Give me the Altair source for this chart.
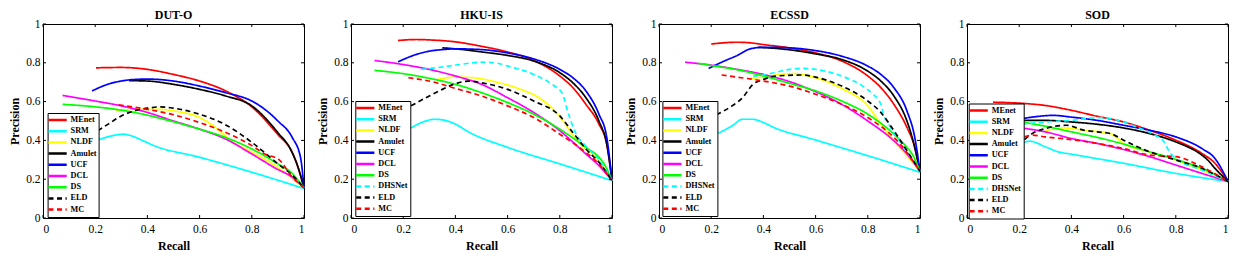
import altair as alt
import pandas as pd

# ---------------- data ----------------
TITLES = ["DUT-O", "HKU-IS", "ECSSD", "SOD"]
METHODS_9 = ["MEnet", "SRM", "NLDF", "Amulet", "UCF", "DCL", "DS", "ELD", "MC"]
METHODS_10 = ["MEnet", "SRM", "NLDF", "Amulet", "UCF", "DCL", "DS", "DHSNet", "ELD", "MC"]
COLORS = {"MEnet": "#ff0000", "SRM": "#00ffff", "NLDF": "#ffff00", "Amulet": "#000000",
          "UCF": "#0000ff", "DCL": "#ff00ff", "DS": "#00ff00", "DHSNet": "#00ffff",
          "ELD": "#000000", "MC": "#ff0000"}
DASHED = ["DHSNet", "ELD", "MC"]
TICKS = [0, 0.2, 0.4, 0.6, 0.8, 1]

DUTO_R = {
    "MEnet": [0.203, 0.3, 0.4, 0.5, 0.6, 0.7, 0.8, 0.9, 0.955, 0.98, 1.0],
    "SRM": [0.187, 0.25, 0.307, 0.33, 0.384, 0.42, 0.6, 0.8, 1.0],
    "NLDF": [0.28, 0.35, 0.45, 0.5, 0.6, 0.625, 0.676, 0.727, 0.778, 0.9, 1.0],
    "Amulet": [0.33, 0.4, 0.5, 0.6, 0.7, 0.8, 0.9, 0.95, 0.975, 1.0],
    "UCF": [0.188, 0.25, 0.3, 0.35, 0.4, 0.5, 0.6, 0.7, 0.8, 0.85, 0.9, 0.955, 0.987, 1.0],
    "DCL": [0.075, 0.2, 0.3, 0.4, 0.5, 0.6, 0.7, 0.8, 0.9, 0.95, 1.0],
    "DS": [0.075, 0.2, 0.3, 0.4, 0.5, 0.6, 0.7, 0.8, 0.9, 0.95, 1.0],
    "ELD": [0.21, 0.25, 0.3, 0.35, 0.4, 0.45, 0.5, 0.6, 0.7, 0.8, 0.84, 0.9, 0.95, 1.0],
    "MC": [0.29, 0.4, 0.5, 0.6, 0.7, 0.8, 0.85, 0.905, 0.95, 1.0],
}
DUTO_P = {
    "MEnet": [0.774, 0.776, 0.766, 0.74, 0.706, 0.655, 0.573, 0.43, 0.338, 0.25, 0.155],
    "SRM": [0.39, 0.419, 0.432, 0.427, 0.398, 0.376, 0.313, 0.236, 0.152],
    "NLDF": [0.552, 0.56, 0.56, 0.552, 0.518, 0.50, 0.45, 0.39, 0.355, 0.26, 0.155],
    "Amulet": [0.708, 0.706, 0.689, 0.663, 0.629, 0.578, 0.44, 0.35, 0.27, 0.155],
    "UCF": [0.655, 0.69, 0.706, 0.714, 0.716, 0.706, 0.68, 0.646, 0.603, 0.56, 0.50, 0.415, 0.31, 0.155],
    "DCL": [0.632, 0.603, 0.578, 0.544, 0.50, 0.458, 0.407, 0.33, 0.25, 0.215, 0.155],
    "DS": [0.586, 0.573, 0.556, 0.53, 0.496, 0.458, 0.415, 0.356, 0.279, 0.236, 0.155],
    "ELD": [0.45, 0.484, 0.526, 0.552, 0.566, 0.573, 0.566, 0.535, 0.48, 0.39, 0.347, 0.279, 0.227, 0.155],
    "MC": [0.583, 0.56, 0.532, 0.492, 0.441, 0.373, 0.33, 0.30, 0.219, 0.155],
}

HKU_R = {
    "MEnet": [0.18, 0.25, 0.3, 0.4, 0.5, 0.6, 0.7, 0.8, 0.85, 0.9, 0.95, 0.98, 1.0],
    "SRM": [0.2, 0.28, 0.32, 0.35, 0.4, 0.45, 0.6, 0.8, 1.0],
    "NLDF": [0.33, 0.4, 0.47, 0.54, 0.65, 0.72, 0.803, 0.848, 0.873, 0.95, 1.0],
    "Amulet": [0.35, 0.4, 0.5, 0.6, 0.7, 0.8, 0.85, 0.9, 0.95, 0.98, 1.0],
    "UCF": [0.18, 0.25, 0.3, 0.35, 0.4, 0.5, 0.6, 0.7, 0.8, 0.85, 0.9, 0.95, 0.98, 1.0],
    "DCL": [0.09, 0.2, 0.3, 0.4, 0.5, 0.6, 0.7, 0.8, 0.9, 0.95, 1.0],
    "DS": [0.09, 0.2, 0.3, 0.4, 0.5, 0.6, 0.7, 0.8, 0.9, 0.95, 0.97, 1.0],
    "DHSNet": [0.27, 0.3, 0.4, 0.5, 0.55, 0.6, 0.7, 0.77, 0.81, 0.83, 0.86, 0.9, 0.95, 1.0],
    "ELD": [0.23, 0.3, 0.35, 0.4, 0.45, 0.5, 0.6, 0.7, 0.8, 0.85, 0.9, 0.95, 1.0],
    "MC": [0.22, 0.3, 0.4, 0.5, 0.6, 0.7, 0.8, 0.9, 0.95, 1.0],
}
HKU_P = {
    "MEnet": [0.915, 0.92, 0.918, 0.908, 0.885, 0.856, 0.812, 0.732, 0.672, 0.586, 0.484, 0.38, 0.193],
    "SRM": [0.44, 0.497, 0.509, 0.506, 0.484, 0.444, 0.364, 0.279, 0.193],
    "NLDF": [0.714, 0.726, 0.723, 0.706, 0.663, 0.62, 0.518, 0.432, 0.39, 0.296, 0.193],
    "Amulet": [0.877, 0.872, 0.856, 0.838, 0.809, 0.749, 0.697, 0.62, 0.50, 0.38, 0.193],
    "UCF": [0.805, 0.843, 0.86, 0.868, 0.872, 0.868, 0.851, 0.82, 0.766, 0.723, 0.655, 0.535, 0.415, 0.193],
    "DCL": [0.812, 0.791, 0.766, 0.732, 0.689, 0.62, 0.544, 0.45, 0.33, 0.27, 0.193],
    "DS": [0.761, 0.744, 0.72, 0.689, 0.646, 0.595, 0.535, 0.458, 0.364, 0.313, 0.279, 0.193],
    "DHSNet": [0.766, 0.77, 0.788, 0.803, 0.80, 0.783, 0.74, 0.689, 0.64, 0.55, 0.44, 0.37, 0.30, 0.193],
    "ELD": [0.578, 0.629, 0.663, 0.692, 0.706, 0.697, 0.663, 0.603, 0.526, 0.441, 0.356, 0.287, 0.193],
    "MC": [0.723, 0.706, 0.668, 0.629, 0.578, 0.518, 0.432, 0.338, 0.279, 0.193],
}

ECSSD_R = {
    "MEnet": [0.2, 0.3, 0.35, 0.4, 0.5, 0.6, 0.7, 0.8, 0.85, 0.9, 0.95, 0.98, 1.0],
    "SRM": [0.2, 0.28, 0.32, 0.36, 0.4, 0.44, 0.6, 0.8, 1.0],
    "NLDF": [0.35, 0.4, 0.45, 0.52, 0.6, 0.7, 0.8, 0.85, 0.9, 0.95, 1.0],
    "Amulet": [0.38, 0.45, 0.5, 0.6, 0.7, 0.8, 0.85, 0.9, 0.95, 0.97, 1.0],
    "UCF": [0.19, 0.25, 0.3, 0.35, 0.4, 0.5, 0.6, 0.7, 0.8, 0.85, 0.9, 0.95, 0.98, 1.0],
    "DCL": [0.1, 0.2, 0.3, 0.4, 0.5, 0.6, 0.7, 0.8, 0.9, 0.95, 1.0],
    "DS": [0.15, 0.2, 0.3, 0.4, 0.5, 0.6, 0.7, 0.8, 0.9, 0.95, 0.97, 1.0],
    "DHSNet": [0.36, 0.4, 0.45, 0.5, 0.55, 0.6, 0.7, 0.78, 0.82, 0.85, 0.86, 0.88, 0.92, 0.96, 1.0],
    "ELD": [0.22, 0.28, 0.32, 0.36, 0.4, 0.45, 0.55, 0.6, 0.7, 0.8, 0.85, 0.9, 0.95, 1.0],
    "MC": [0.24, 0.3, 0.4, 0.5, 0.6, 0.7, 0.8, 0.9, 0.95, 1.0],
}
ECSSD_P = {
    "MEnet": [0.897, 0.906, 0.903, 0.894, 0.877, 0.851, 0.809, 0.732, 0.672, 0.586, 0.467, 0.364, 0.24],
    "SRM": [0.42, 0.475, 0.509, 0.509, 0.492, 0.467, 0.402, 0.321, 0.236],
    "NLDF": [0.72, 0.726, 0.737, 0.744, 0.723, 0.668, 0.578, 0.484, 0.398, 0.321, 0.24],
    "Amulet": [0.88, 0.874, 0.867, 0.846, 0.817, 0.757, 0.706, 0.629, 0.50, 0.415, 0.24],
    "UCF": [0.771, 0.809, 0.838, 0.872, 0.88, 0.877, 0.863, 0.834, 0.783, 0.74, 0.672, 0.552, 0.415, 0.24],
    "DCL": [0.803, 0.788, 0.766, 0.74, 0.703, 0.651, 0.586, 0.50, 0.398, 0.33, 0.24],
    "DS": [0.797, 0.786, 0.764, 0.732, 0.694, 0.655, 0.603, 0.535, 0.432, 0.364, 0.33, 0.24],
    "DHSNet": [0.732, 0.737, 0.752, 0.766, 0.771, 0.766, 0.732, 0.68, 0.638, 0.586, 0.535, 0.484, 0.398, 0.321, 0.24],
    "ELD": [0.532, 0.578, 0.62, 0.689, 0.714, 0.732, 0.737, 0.726, 0.68, 0.603, 0.544, 0.45, 0.347, 0.24],
    "MC": [0.737, 0.726, 0.706, 0.68, 0.638, 0.586, 0.518, 0.415, 0.338, 0.24],
}

SOD_R = {
    "MEnet": [0.1, 0.2, 0.3, 0.4, 0.5, 0.6, 0.7, 0.8, 0.9, 0.95, 1.0],
    "SRM": [0.21, 0.24, 0.3, 0.35, 0.4, 0.6, 0.8, 1.0],
    "NLDF": [0.3, 0.37, 0.45, 0.55, 0.6, 0.7, 0.8, 0.9, 1.0],
    "Amulet": [0.21, 0.3, 0.4, 0.5, 0.6, 0.7, 0.8, 0.9, 0.92, 0.95, 1.0],
    "UCF": [0.21, 0.25, 0.33, 0.4, 0.5, 0.6, 0.7, 0.8, 0.9, 0.95, 1.0],
    "DCL": [0.21, 0.3, 0.4, 0.5, 0.6, 0.7, 0.8, 0.9, 1.0],
    "DS": [0.21, 0.3, 0.4, 0.5, 0.6, 0.7, 0.8, 0.9, 1.0],
    "DHSNet": [0.21, 0.3, 0.4, 0.5, 0.55, 0.65, 0.72, 0.75, 0.78, 0.82, 0.9, 1.0],
    "ELD": [0.22, 0.25, 0.3, 0.38, 0.45, 0.5, 0.55, 0.6, 0.7, 0.8, 0.9, 1.0],
    "MC": [0.22, 0.25, 0.3, 0.4, 0.5, 0.6, 0.7, 0.8, 0.9, 1.0],
}
SOD_P = {
    "MEnet": [0.597, 0.592, 0.58, 0.555, 0.524, 0.495, 0.452, 0.401, 0.333, 0.282, 0.188],
    "SRM": [0.384, 0.396, 0.367, 0.341, 0.329, 0.282, 0.23, 0.188],
    "NLDF": [0.449, 0.464, 0.452, 0.435, 0.384, 0.341, 0.299, 0.247, 0.188],
    "Amulet": [0.503, 0.503, 0.495, 0.483, 0.464, 0.435, 0.392, 0.324, 0.302, 0.256, 0.188],
    "UCF": [0.512, 0.52, 0.529, 0.52, 0.503, 0.478, 0.452, 0.418, 0.358, 0.307, 0.188],
    "DCL": [0.464, 0.444, 0.41, 0.384, 0.353, 0.316, 0.273, 0.23, 0.188],
    "DS": [0.495, 0.473, 0.444, 0.415, 0.381, 0.341, 0.302, 0.256, 0.188],
    "DHSNet": [0.483, 0.495, 0.503, 0.517, 0.512, 0.469, 0.427, 0.401, 0.333, 0.29, 0.247, 0.188],
    "ELD": [0.404, 0.435, 0.461, 0.478, 0.452, 0.444, 0.435, 0.401, 0.341, 0.299, 0.256, 0.188],
    "MC": [0.418, 0.427, 0.418, 0.404, 0.384, 0.358, 0.324, 0.316, 0.264, 0.188],
}

# ---------------- chart ----------------
W, H = 261, 194
FONT = "Liberation Serif"


def panel(title, rec, prec, methods, lx, ly):
    rows = []
    for m in methods:
        for r, p in zip(rec[m], prec[m]):
            rows.append({"method": m, "Recall": r, "Precision": p})
    df = pd.DataFrame(rows)

    axis_common = dict(values=TICKS, labelExpr="format(datum.value, '~g')", ticks=False,
                       tickSize=0, domain=False, grid=False, labelFont=FONT,
                       labelFontSize=11.5, labelColor="black", titleFont=FONT,
                       titleFontSize=12, titleFontWeight="bold", titleColor="black")
    xenc = alt.X("Recall:Q", scale=alt.Scale(domain=[0, 1], nice=False),
                 axis=alt.Axis(labelPadding=5, titlePadding=5.5, **axis_common))
    yenc = alt.Y("Precision:Q", scale=alt.Scale(domain=[0, 1], nice=False),
                 axis=alt.Axis(labelPadding=3, titlePadding=4, **axis_common))

    legend = alt.Legend(orient="none", legendX=lx, legendY=ly, title=None,
                        strokeColor="black", fillColor="white", padding=2,
                        symbolType="M-2.6,0H2.6", symbolSize=49, symbolStrokeWidth=2.5,
                        labelFont=FONT, labelFontWeight="bold", labelFontSize=8.2,
                        labelColor="black", rowPadding=1.2, labelOffset=8,
                        symbolOffset=3)
    color = alt.Color("method:N", sort=methods,
                      scale=alt.Scale(domain=methods, range=[COLORS[m] for m in methods]),
                      legend=legend)
    dash = alt.StrokeDash("method:N", sort=methods,
                          scale=alt.Scale(domain=methods,
                                          range=[[5, 3.5] if m in DASHED else [1, 0] for m in methods]),
                          legend=legend)

    lines = alt.Chart(df).mark_line(strokeWidth=1.7, interpolate="monotone").encode(
        x=xenc, y=yenc, color=color, strokeDash=dash)

    xt = pd.DataFrame({"Recall": TICKS})
    yt = pd.DataFrame({"Precision": TICKS})
    tb = alt.Chart(xt).mark_rule(color="black", strokeWidth=1).encode(
        x=xenc, y=alt.value(H), y2=alt.value(H - 3))
    tt = alt.Chart(xt).mark_rule(color="black", strokeWidth=1).encode(
        x=xenc, y=alt.value(0), y2=alt.value(3))
    tl = alt.Chart(yt).mark_rule(color="black", strokeWidth=1).encode(
        y=yenc, x=alt.value(0), x2=alt.value(3))
    tr = alt.Chart(yt).mark_rule(color="black", strokeWidth=1).encode(
        y=yenc, x=alt.value(W - 3), x2=alt.value(W))

    return alt.layer(lines, tb, tt, tl, tr).properties(
        width=W, height=H,
        title=alt.TitleParams(title, font=FONT, fontSize=12, fontWeight="bold",
                              color="black", offset=-4, frame="group"))


p1 = panel(TITLES[0], DUTO_R, DUTO_P, METHODS_9, 4.6, 89)
p2 = panel(TITLES[1], HKU_R, HKU_P, METHODS_10, 4.3, 77)
p3 = panel(TITLES[2], ECSSD_R, ECSSD_P, METHODS_10, 3.4, 77)
p4 = panel(TITLES[3], SOD_R, SOD_P, METHODS_10, 1.7, 79.5)

chart = alt.hconcat(p1, p2, p3, p4, spacing=8).resolve_scale(
    color="independent", strokeDash="independent"
).configure_view(stroke="black", strokeWidth=1).properties(background="white", padding=0)

chart.save("out.html", embed_options={"renderer": "svg", "actions": False})
